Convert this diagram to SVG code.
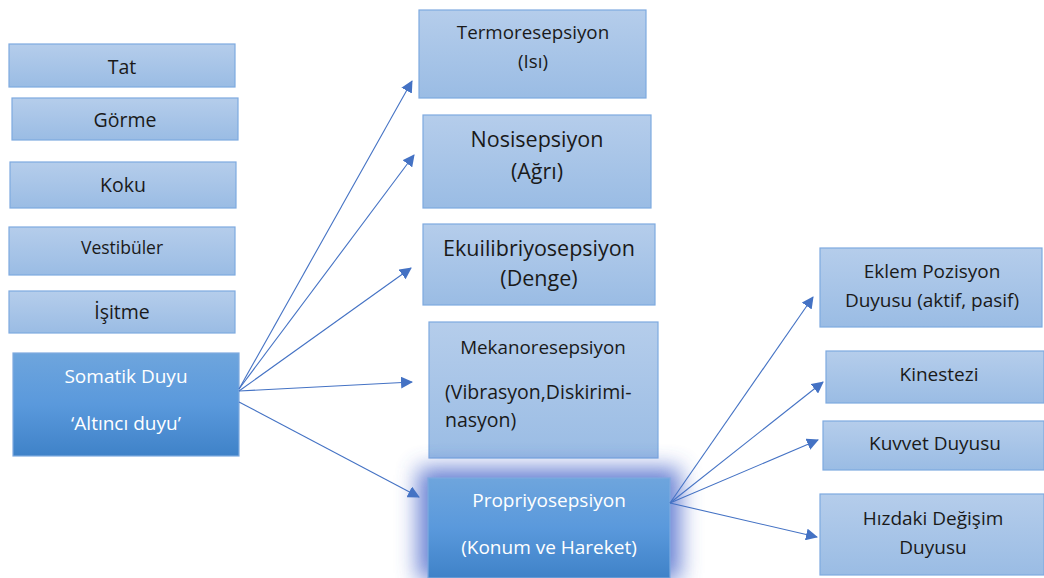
<svg xmlns="http://www.w3.org/2000/svg" width="1044" height="578" viewBox="0 0 1044 578">
<defs>
<linearGradient id="lg" x1="0" y1="0" x2="0" y2="1"><stop offset="0" stop-color="#b5cdeb"/><stop offset="1" stop-color="#9abce4"/></linearGradient>
<linearGradient id="dg" x1="0" y1="0" x2="0" y2="1"><stop offset="0" stop-color="#6ea5dd"/><stop offset="0.5" stop-color="#5a99dc"/><stop offset="1" stop-color="#3f82c8"/></linearGradient>
<filter id="glow" x="-30%" y="-50%" width="160%" height="200%"><feGaussianBlur stdDeviation="11"/></filter>
<marker id="ah" markerWidth="12" markerHeight="12" refX="11" refY="6" orient="auto" markerUnits="userSpaceOnUse"><path d="M0,0 L12,6 L0,12 z" fill="#4472c4"/></marker>
<style>
.l{fill:url(#lg);stroke:#7eaadf;stroke-width:1.2}
.d{fill:url(#dg);stroke:#7eaadf;stroke-width:1.2}
text{font-family:"Open Sans","Liberation Sans",sans-serif;fill:#1a1a1a;text-anchor:middle}
.w{fill:#ffffff}
.c line{stroke:#4472c4;stroke-width:1.1;marker-end:url(#ah)}
</style>
</defs>
<rect width="1044" height="578" fill="#ffffff"/>
<g id="n-tat"><rect class="l" x="9" y="44" width="226" height="43"/><text x="122" y="74" font-size="19.5">Tat</text></g>
<g id="n-gorme"><rect class="l" x="12" y="98" width="226" height="42"/><text x="125" y="127" font-size="19.5">Görme</text></g>
<g id="n-koku"><rect class="l" x="10" y="162" width="226" height="46"/><text x="123" y="192" font-size="19.5">Koku</text></g>
<g id="n-vest"><rect class="l" x="9" y="227" width="226" height="48"/><text x="122" y="254" font-size="17.5">Vestibüler</text></g>
<g id="n-isitme"><rect class="l" x="9" y="291" width="226" height="42"/><text x="122" y="319" font-size="19.5">İşitme</text></g>
<g id="n-somatik"><rect class="d" x="13" y="353" width="226" height="103"/><text class="w" x="126" y="383" font-size="19">Somatik Duyu</text><text class="w" x="126" y="430" font-size="19">‘Altıncı duyu’</text></g>
<g id="n-termo"><rect class="l" x="419" y="10" width="227" height="88"/><text x="533" y="39" font-size="18.8">Termoresepsiyon</text><text x="533" y="68" font-size="18.8">(Isı)</text></g>
<g id="n-nosi"><rect class="l" x="423" y="115" width="228" height="93"/><text x="537" y="147" font-size="21.5">Nosisepsiyon</text><text x="537" y="179" font-size="21.5">(Ağrı)</text></g>
<g id="n-ekui"><rect class="l" x="423" y="224" width="232" height="81"/><text x="539" y="256" font-size="21.5">Ekuilibriyosepsiyon</text><text x="539" y="286" font-size="21.5">(Denge)</text></g>
<g id="n-mekano"><rect class="l" x="429" y="322" width="229" height="136"/><text x="543" y="354" font-size="18.8">Mekanoresepsiyon</text><text x="445" y="399" font-size="19.5" style="text-anchor:start">(Vibrasyon,Diskirimi-</text><text x="445" y="427" font-size="19.5" style="text-anchor:start">nasyon)</text></g>
<g id="n-proprio"><rect x="418" y="468" width="262" height="112" fill="#3f5fc8" opacity="0.8" filter="url(#glow)"/><rect class="d" x="428" y="478" width="242" height="100"/><text class="w" x="549" y="507" font-size="19">Propriyosepsiyon</text><text class="w" x="549" y="554" font-size="19">(Konum ve Hareket)</text></g>
<g id="n-eklem"><rect class="l" x="820" y="248" width="222" height="79"/><text x="932" y="278" font-size="19">Eklem Pozisyon</text><text x="932" y="307" font-size="19">Duyusu (aktif, pasif)</text></g>
<g id="n-kin"><rect class="l" x="826" y="351" width="218" height="52"/><text x="939" y="381" font-size="19">Kinestezi</text></g>
<g id="n-kuv"><rect class="l" x="823" y="421" width="221" height="49"/><text x="935" y="450" font-size="19">Kuvvet Duyusu</text></g>
<g id="n-hiz"><rect class="l" x="820" y="494" width="224" height="81"/><text x="933" y="525" font-size="19">Hızdaki Değişim</text><text x="933" y="554" font-size="19">Duyusu</text></g>
<g id="connectors" class="c">
<line x1="239" y1="389" x2="412" y2="81"/>
<line x1="239" y1="389" x2="414" y2="155"/>
<line x1="239" y1="391" x2="411" y2="268"/>
<line x1="239" y1="391" x2="412" y2="382"/>
<line x1="239" y1="402" x2="419" y2="497"/>
<line x1="670" y1="503" x2="813" y2="297"/>
<line x1="670" y1="503" x2="823" y2="382"/>
<line x1="670" y1="503" x2="818" y2="440"/>
<line x1="670" y1="503" x2="817" y2="537"/>
</g>
</svg>
